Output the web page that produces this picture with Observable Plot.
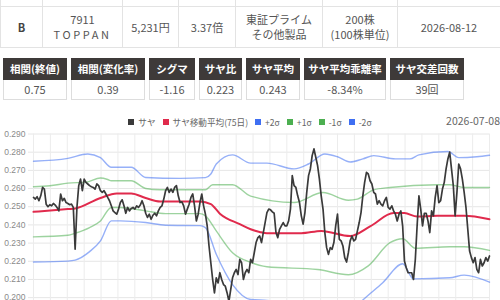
<!DOCTYPE html>
<html><head><meta charset="utf-8">
<script src="https://cdn.jsdelivr.net/npm/d3@7"></script>
<script src="https://cdn.jsdelivr.net/npm/@observablehq/plot@0.6"></script>
<style>
html,body{margin:0;padding:0;width:500px;height:300px;overflow:hidden;background:#fff;font-family:"Noto Sans CJK JP","Noto Sans",sans-serif;color:#555;}
#info{position:absolute;left:0;top:-24px;border-collapse:collapse;table-layout:fixed;width:500px;font-size:11px;}
#info td{border:1px solid #e3e3e3;text-align:center;padding:0;line-height:15px;}
#info tr.h td{height:29px;}
#info tr.r td{height:40px;}
#info td.b{font-weight:bold;color:#444;}
.sp{letter-spacing:2.6px;}
#stats{position:absolute;left:3px;top:58px;display:flex;gap:4px;}
.box{display:flex;flex-direction:column;}
.box .hd{height:22px;line-height:22px;background:#3e3a39;color:#fff;font-weight:bold;font-size:10.5px;text-align:center;white-space:nowrap;}
.box .vl{height:19px;line-height:19px;border:1px solid #ddd;border-top:none;font-size:11px;text-align:center;color:#555;}
#legend{position:absolute;left:0;width:500px;top:115px;display:flex;justify-content:center;font-size:8.6px;color:#666;line-height:14px;}
#legend .it{display:flex;align-items:center;margin:0 3.5px;}
#legend .sq{width:6px;height:6px;margin-right:4px;}
#date{position:absolute;right:0;top:113px;font-size:10.5px;color:#666;}
#chart{position:absolute;left:0;top:128px;}
</style></head>
<body>
<table id="info"><colgroup><col style="width:42px"><col style="width:80px"><col style="width:56px"><col style="width:57px"><col style="width:87px"><col style="width:75px"><col style="width:103px"></colgroup>
<tr class="h"><td></td><td></td><td></td><td></td><td></td><td></td><td></td></tr>
<tr class="r" id="inforow"></tr></table>
<div id="stats"></div>
<div id="legend"></div>
<div id="date"></div>
<div id="chart"></div>
<script>
// ---- table data ----
const infoCells = [["B"], ["7911", "TOPPAN"], ["5,231円"], ["3.37倍"], ["東証プライム", "その他製品"], ["200株", "(100株単位)"], ["2026-08-12"]];
const statLabels = ["相関(終値)", "相関(変化率)", "シグマ", "サヤ比", "サヤ平均", "サヤ平均乖離率", "サヤ交差回数"];
const statValues = ["0.75", "0.39", "-1.16", "0.223", "0.243", "-8.34%", "39回"];
const lastDate = "2026-07-08";
const legendLabels = ["サヤ", "サヤ移動平均(75日)", "+2σ", "+1σ", "-1σ", "-2σ"];

// ---- series: spread ratio (one value per trading day) ----
const saya = [
0.2551,0.2542,0.2555,0.2533,0.2560,0.2606,0.2597,0.2514,0.2500,0.2511,
0.2505,0.2518,0.2509,0.2496,0.2477,0.2570,0.2533,0.2546,0.2523,0.2518,
0.2511,0.2514,0.2496,0.2266,0.2496,0.2616,0.2652,0.2588,0.2652,0.2634,
0.2625,0.2616,0.2610,0.2606,0.2597,0.2625,0.2616,0.2588,0.2579,0.2588,
0.2570,0.2551,0.2533,0.2505,0.2477,0.2468,0.2459,0.2487,0.2523,0.2538,
0.2505,0.2464,0.2496,0.2477,0.2490,0.2496,0.2487,0.2505,0.2496,0.2509,
0.2533,0.2505,0.2464,0.2441,0.2459,0.2431,0.2453,0.2464,0.2450,0.2477,
0.2496,0.2505,0.2542,0.2588,0.2606,0.2579,0.2597,0.2579,0.2606,0.2616,
0.2560,0.2523,
0.2527,0.2505,0.2459,0.2487,0.2514,0.2551,0.2570,0.2505,0.2422,0.2459,
0.2523,0.2570,0.2505,0.2459,0.2395,0.2284,0.2192,0.2100,0.2026,0.2109,
0.2081,0.2137,0.2100,0.2072,0.2063,0.2026,0.1980,0.2045,0.2109,0.2137,
0.2155,0.2127,0.2210,0.2192,0.2100,0.2137,0.2155,0.2137,0.2210,0.2192,
0.2247,0.2303,0.2330,0.2339,
0.2303,0.2358,0.2413,0.2468,0.2487,0.2483,0.2472,0.2464,0.2358,0.2330,
0.2376,0.2395,0.2413,0.2395,0.2395,0.2422,0.2487,0.2671,0.2616,0.2606,
0.2560,0.2523,0.2450,0.2404,0.2468,0.2579,0.2671,0.2708,0.2781,0.2818,
0.2772,0.2726,0.2652,0.2560,0.2487,0.2358,0.2275,0.2238,0.2275,0.2266,
0.2303,0.2395,
0.2459,0.2321,0.2312,0.2284,0.2220,0.2196,0.2247,0.2312,0.2339,0.2312,
0.2321,0.2367,0.2413,0.2468,0.2560,0.2634,0.2689,0.2680,0.2643,0.2625,
0.2579,0.2570,0.2514,0.2533,0.2514,0.2505,0.2533,0.2551,0.2496,0.2487,
0.2505,0.2477,0.2459,0.2422,0.2459,0.2477,0.2395,0.2201,0.2164,0.2137,
0.2137,
0.2137,0.2100,0.2210,0.2395,0.2560,0.2487,0.2395,0.2464,0.2464,0.2422,
0.2358,0.2477,0.2450,0.2551,0.2616,0.2523,0.2533,0.2597,0.2634,0.2708,
0.2763,0.2800,0.2708,0.2616,0.2450,0.2579,0.2735,0.2708,0.2652,0.2579,
0.2496,0.2376,0.2256,0.2220,0.2192,0.2220,0.2155,0.2137,0.2210,0.2174,
0.2192,0.2220,0.2201,0.2229
];

// ---- bands: [trading day, value] ----
const ma75 = [[0,.2472],[19,.2487],[23,.2490],[37,.2548],[46,.2573],[54,.2573],[62,.2548],[70,.2529],[92,.2529],[98,.2514],[103,.2462],[114,.2404],[120,.2376],[125,.2361],[129,.2354],[148,.2354],[159,.2367],[175,.2339],[186,.2392],[199,.2465],[205,.2465],[212,.2446],[223,.2450],[238,.2450],[252,.2431]];
const plus2 = [[0,.2750],[19,.2766],[30,.2790],[37,.2770],[43,.2717],[54,.2717],[62,.2661],[81,.2656],[95,.2660],[98,.2680],[101,.2735],[110,.2785],[120,.2740],[129,.2740],[144,.2708],[152,.2735],[161,.2790],[168,.2775],[175,.2746],[182,.2763],[188,.2781],[200,.2763],[208,.2763],[213,.2785],[229,.2804],[235,.2770],[245,.2775],[252,.2783]];
const plus1 = [[0,.2610],[9,.2615],[19,.2630],[29,.2635],[37,.2658],[41,.2650],[43,.2643],[54,.2643],[62,.2600],[70,.2593],[95,.2593],[99,.2621],[110,.2621],[120,.2558],[144,.2523],[160,.2578],[174,.2536],[179,.2542],[188,.2593],[197,.2606],[223,.2621],[230,.2621],[238,.2606],[252,.2606]];
const minus1 = [[0,.2334],[19,.2343],[23,.2354],[31,.2385],[37,.2422],[43,.2496],[48,.2496],[62,.2477],[73,.2462],[92,.2462],[95,.2450],[101,.2367],[110,.2247],[120,.2194],[129,.2170],[157,.2155],[174,.2126],[185,.2175],[197,.2302],[204,.2324],[211,.2272],[230,.2280],[238,.2280],[252,.2260]];
const minus2 = [[0,.2196],[19,.2201],[23,.2206],[31,.2253],[37,.2312],[43,.2422],[48,.2422],[62,.2413],[73,.2398],[92,.2396],[95,.2385],[101,.2239],[110,.2072],[120,.1990],[129,.1985],[148,.1966],[159,.1933],[174,.1909],[182,.1987],[193,.2082],[204,.2186],[210,.2103],[230,.2109],[238,.2124],[252,.2085]];

const yTicks = d3.range(0.18, 0.2951, 0.01);

// ---- HTML parts ----
const row = document.getElementById("inforow");
infoCells.forEach((c, i) => {
  const td = document.createElement("td");
  if (i === 0) td.className = "b";
  td.innerHTML = c.map((t, j) => (i === 1 && j === 1) ? `<span class="sp">${t}</span>` : t).join("<br>");
  row.appendChild(td);
});
const boxWidths = ["64px","74px","46px","43px","54px","82px","74px"];
const stats = document.getElementById("stats");
statLabels.forEach((l, i) => {
  const b = document.createElement("div");
  b.className = "box"; b.style.width = boxWidths[i];
  b.innerHTML = `<div class="hd">${l}</div><div class="vl">${statValues[i]}</div>`;
  stats.appendChild(b);
});
const legendSwatch = ["#3a3a3a", "#e02a4c", "#3f6ff2", "#4caf50", "#4caf50", "#3f6ff2"];
const lg = document.getElementById("legend");
legendLabels.forEach((l, i) => {
  const it = document.createElement("div");
  it.className = "it";
  it.innerHTML = `<span class="sq" style="background:${legendSwatch[i]}"></span><span>${l}</span>`;
  lg.appendChild(it);
});
document.getElementById("date").textContent = lastDate;

// ---- chart ----
const lastDay = saya.length - 1;
const xGrid = d3.range(0, 28).map(i => i * lastDay / 27);
const chart = Plot.plot({
  width: 500, height: 230,
  marginLeft: 33, marginRight: 11, marginTop: 5.5, marginBottom: 24.5,
  x: {domain: [0, lastDay], axis: null},
  y: {domain: [0.18, 0.29], axis: null},
  style: {fontFamily: "'Liberation Sans', Arial, sans-serif", fontSize: "8.5px", background: "transparent"},
  marks: [
    Plot.gridY({ticks: yTicks, stroke: "#e6e6e6", strokeOpacity: 1, insetLeft: -5}),
    Plot.gridX({ticks: xGrid, stroke: "#ececec", strokeOpacity: 1}),
    Plot.axisY({ticks: yTicks, tickSize: 0, tickPadding: 8, tickFormat: d3.format(".3f"), fill: "#8a8a8a"}),
    Plot.line(minus2, {x: d => d[0], y: d => d[1], stroke: "#3f6ff2", strokeOpacity: 0.55, strokeWidth: 1.4, curve: "monotone-x"}),
    Plot.line(minus1, {x: d => d[0], y: d => d[1], stroke: "#4caf50", strokeOpacity: 0.55, strokeWidth: 1.4, curve: "monotone-x"}),
    Plot.line(plus1, {x: d => d[0], y: d => d[1], stroke: "#4caf50", strokeOpacity: 0.55, strokeWidth: 1.4, curve: "monotone-x"}),
    Plot.line(plus2, {x: d => d[0], y: d => d[1], stroke: "#3f6ff2", strokeOpacity: 0.55, strokeWidth: 1.4, curve: "monotone-x"}),
    Plot.line(ma75, {x: d => d[0], y: d => d[1], stroke: "#e02a4c", strokeWidth: 2, curve: "monotone-x"}),
    Plot.lineY(saya, {x: (d, i) => i, y: d => d, stroke: "#3a3a3a", strokeWidth: 1.7})
  ]
});
document.getElementById("chart").appendChild(chart);
</script>
</body></html>
